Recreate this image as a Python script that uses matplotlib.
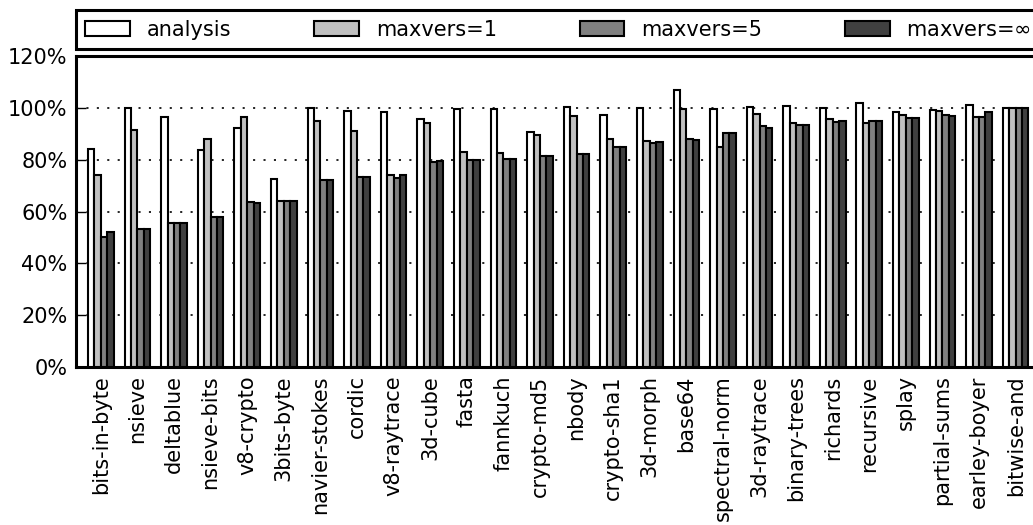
import matplotlib
matplotlib.use("Agg")
import matplotlib.pyplot as plt
import numpy as np

benchmarks = ["bits-in-byte", "nsieve", "deltablue", "nsieve-bits", "v8-crypto", "3bits-byte",
              "navier-stokes", "cordic", "v8-raytrace", "3d-cube", "fasta", "fannkuch",
              "crypto-md5", "nbody", "crypto-sha1", "3d-morph", "base64", "spectral-norm",
              "3d-raytrace", "binary-trees", "richards", "recursive", "splay", "partial-sums",
              "earley-boyer", "bitwise-and"]

analysis = [84.0, 99.8, 96.5, 83.7, 92.4, 72.6,
            100.0, 98.8, 98.2, 95.8, 99.4, 99.6,
            90.5, 100.4, 97.2, 99.9, 106.7, 99.6,
            100.4, 100.6, 99.9, 101.9, 98.2, 99.1,
            101.0, 100.1]
maxvers1 = [74.0, 91.6, 55.6, 87.8, 96.3, 64.0,
            95.0, 91.1, 74.0, 94.0, 82.8, 82.5,
            89.7, 96.8, 87.8, 87.1, 99.4, 84.9,
            97.8, 94.3, 95.6, 94.2, 97.2, 98.8,
            96.3, 100.0]
maxvers5 = [50.2, 53.4, 55.6, 57.9, 63.7, 64.0,
            72.1, 73.4, 73.1, 79.0, 79.8, 80.2,
            81.3, 82.1, 84.7, 86.5, 88.0, 90.1,
            93.1, 93.3, 94.6, 95.1, 95.9, 97.4,
            96.3, 100.0]
maxversinf = [51.9, 53.4, 55.6, 57.9, 63.1, 64.0,
              72.1, 73.4, 73.9, 79.4, 79.8, 80.2,
              81.3, 82.1, 84.7, 86.7, 87.5, 90.1,
              92.1, 93.3, 95.0, 95.1, 95.9, 96.8,
              98.2, 100.0]

series = [analysis, maxvers1, maxvers5, maxversinf]
labels = ["analysis", "maxvers=1", "maxvers=5", "maxvers=$\\infty$"]
colors = ["#ffffff", "#c0c0c0", "#808080", "#404040"]

yticks = [0, 20, 40, 60, 80, 100, 120]

FS = 15
W, H = 1033, 525
fig = plt.figure(figsize=(W / 100, H / 100), dpi=100)
left_px, right_px = 76, 1040.5
top_px, bottom_px = 56, 367
ax = fig.add_axes([left_px / W, (H - bottom_px) / H,
                   (right_px - left_px) / W, (bottom_px - top_px) / H])

x = np.arange(len(benchmarks))
w = 0.175
for j, (vals, lab, col) in enumerate(zip(series, labels, colors)):
    ax.bar(x + j * w, vals, width=w, align="edge", color=col,
           edgecolor="black", linewidth=1.5, label=lab, zorder=3)

ax.set_xlim(-0.328, len(benchmarks) - 1 + 0.7 + 0.328)
ax.set_ylim(0, 120)
ax.set_yticks(yticks)
ax.set_yticklabels([f"{v}%" for v in yticks], fontsize=FS)
ax.set_xticks(x + 2 * w)
ax.set_xticklabels(benchmarks, rotation=90, fontsize=FS)
ax.tick_params(axis="x", length=0, pad=6)
ax.tick_params(axis="y", direction="in", length=7, width=1, pad=6)

plt.rcParams['lines.scale_dashes'] = False
for v in yticks[1:-1]:
    ax.axhline(v, color="black", linewidth=1.2, linestyle=(0, (1.5, 6)), zorder=1)

for s in ax.spines.values():
    s.set_linewidth(2.2)

leg = ax.legend(loc="lower left", bbox_to_anchor=(0, 1.0225, 1, 0.119), mode="expand",
                ncol=4, borderaxespad=0, fancybox=False, fontsize=FS,
                handlelength=2.15, handleheight=0.72, handletextpad=0.8,
                borderpad=0.45, edgecolor="black", framealpha=1)
leg.get_frame().set_linewidth(2.2)

fig.savefig("out.png", dpi=100)
